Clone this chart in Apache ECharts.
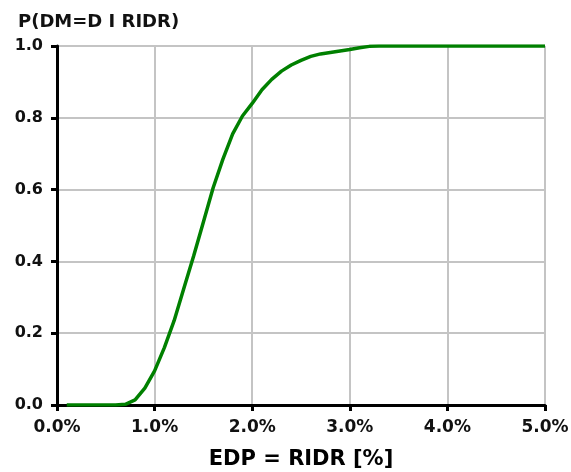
<!DOCTYPE html>
<html><head><meta charset="utf-8">
<script src="https://cdn.jsdelivr.net/npm/echarts@6/dist/echarts.min.js"></script>
<style>html,body{margin:0;padding:0;background:#fff}#c{width:571px;height:472px}</style>
</head><body><div id="c"></div>
<script>
const edp = [0.1,0.2,0.3,0.4,0.5,0.6,0.7,0.8,0.9,1.0,1.1,1.2,1.3,1.4,1.5,1.6,1.7,1.8,1.9,2.0,2.1,2.2,2.3,2.4,2.5,2.6,2.7,2.8,2.9,3.0,3.1,3.2,3.3,3.4,3.5,3.6,3.7,3.8,3.9,4.0,4.1,4.2,4.3,4.4,4.5,4.6,4.7,4.8,4.9,5.0];
const prob = [0,0,0,0,0,0,0.002,0.014,0.047,0.095,0.16,0.235,0.325,0.415,0.51,0.605,0.685,0.755,0.805,0.84,0.878,0.907,0.93,0.947,0.96,0.971,0.978,0.982,0.986,0.99,0.995,0.999,1,1,1,1,1,1,1,1,1,1,1,1,1,1,1,1,1,1];
const xTicks = ['0.0%','1.0%','2.0%','3.0%','4.0%','5.0%'];
const yTitle = 'P(DM=D I RIDR)';
const xTitle = 'EDP = RIDR [%]';
const font = 'DejaVu Sans, sans-serif';
const chart = echarts.init(document.getElementById('c'));
chart.setOption({
  animation:false,
  grid:{left:57,right:26,top:46,bottom:67,containLabel:false,outerBoundsMode:'none'},
  title:{text:yTitle,left:13,top:8,textStyle:{fontFamily:font,fontWeight:'bold',fontSize:18,color:'#111'}},
  xAxis:{type:'value',min:0,max:5,interval:1,
    name:xTitle,nameLocation:'middle',nameGap:44,
    nameTextStyle:{fontFamily:font,fontWeight:'bold',fontSize:21,color:'#000'},
    axisLine:{show:true,onZero:false,lineStyle:{color:'#000',width:3}},
    axisTick:{show:true,length:6,lineStyle:{color:'#000',width:3}},
    axisLabel:{fontFamily:font,fontWeight:'bold',fontSize:17,color:'#111',margin:14,
      formatter:(v)=>xTicks[Math.round(v)]},
    splitLine:{show:true,lineStyle:{color:'#c4c4c4',width:2}}},
  yAxis:{type:'value',min:0,max:1,interval:0.2,
    axisLine:{show:true,onZero:false,lineStyle:{color:'#000',width:3}},
    axisTick:{show:true,length:6,lineStyle:{color:'#000',width:3}},
    axisLabel:{fontFamily:font,fontWeight:'bold',fontSize:16,color:'#111',margin:14,
      formatter:(v)=>v.toFixed(1)},
    splitLine:{show:true,lineStyle:{color:'#c4c4c4',width:2}}},
  series:[{type:'line',data:edp.map((x,i)=>[x,prob[i]]),showSymbol:false,
    lineStyle:{color:'#008000',width:3.5},z:5}]
});
</script></body></html>
